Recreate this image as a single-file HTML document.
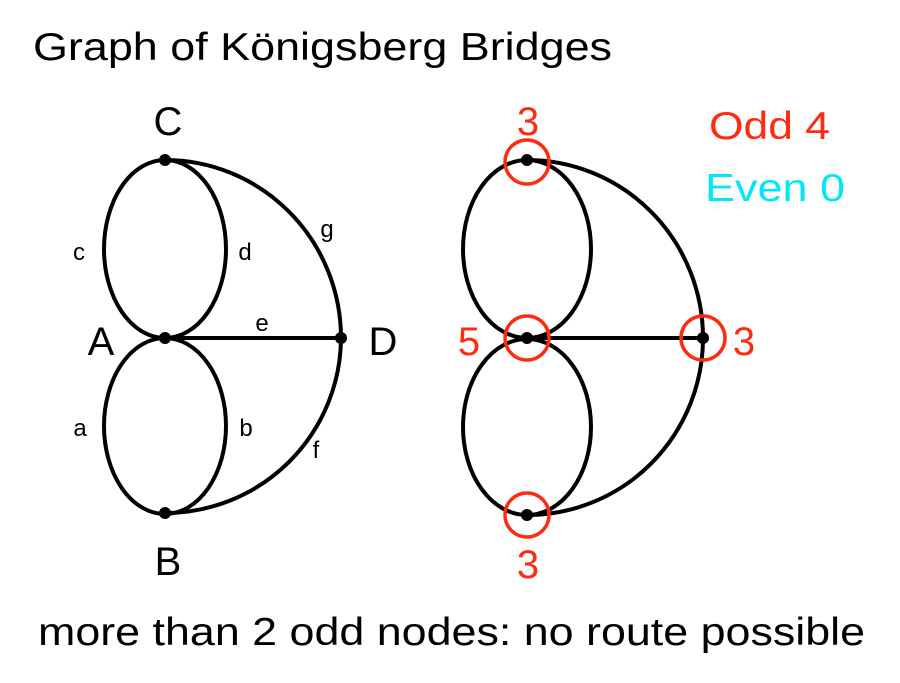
<!DOCTYPE html>
<html><head><style>
html,body{margin:0;padding:0;background:#fff;}
svg{display:block;}
text{font-family:"Liberation Sans",Arial,sans-serif;}
</style></head><body>
<svg width="900" height="683" viewBox="0 0 900 683">
<rect width="900" height="683" fill="#fff"/>
<text x="33" y="60" font-size="39" fill="#000" textLength="579" lengthAdjust="spacingAndGlyphs">Graph of Königsberg Bridges</text>
<g fill="none" stroke="#000" stroke-width="4">
  <ellipse cx="165" cy="249" rx="61" ry="89"/>
  <ellipse cx="165" cy="426" rx="61" ry="88"/>
  <path d="M165,160 A176,178 0 0 1 341,338 A176,176 0 0 1 165,513"/>
  <line x1="165" y1="338" x2="341" y2="338"/>
  <ellipse cx="527" cy="249" rx="64" ry="89"/>
  <ellipse cx="527" cy="427" rx="64" ry="88"/>
  <path d="M527,160 A176,178 0 0 1 703,338 A176,177 0 0 1 527,515"/>
  <line x1="527" y1="338" x2="703" y2="338"/>
</g>
<g fill="#000">
  <circle cx="165" cy="160" r="6"/><circle cx="165" cy="338" r="6"/>
  <circle cx="165" cy="513" r="6"/><circle cx="341" cy="338" r="6"/>
  <circle cx="527" cy="160" r="6"/><circle cx="527" cy="338" r="6"/>
  <circle cx="527" cy="515" r="6"/><circle cx="703" cy="338" r="6"/>
</g>
<g fill="none" stroke="#ff2a10" stroke-width="3.5">
  <circle cx="527" cy="162" r="22"/><circle cx="527" cy="338" r="22"/>
  <circle cx="527" cy="515" r="22"/><circle cx="703" cy="338" r="22"/>
</g>
<g font-size="40" fill="#000" text-anchor="middle">
  <text x="168" y="135">C</text>
  <text x="101" y="355">A</text>
  <text x="383" y="355">D</text>
  <text x="168" y="575">B</text>
</g>
<g font-size="24" fill="#000" text-anchor="middle">
  <text x="79" y="260">c</text>
  <text x="245" y="260">d</text>
  <text x="327" y="237">g</text>
  <text x="262" y="331">e</text>
  <text x="80" y="436">a</text>
  <text x="246" y="436">b</text>
  <text x="316" y="458">f</text>
</g>
<g font-size="40" fill="#ff2a10" text-anchor="middle">
  <text x="528" y="135">3</text>
  <text x="469" y="355">5</text>
  <text x="744" y="355">3</text>
  <text x="528" y="578">3</text>
</g>
<text x="709" y="139" font-size="39" fill="#ff2a10" textLength="121" lengthAdjust="spacingAndGlyphs">Odd 4</text>
<text x="705" y="201" font-size="39" fill="#00e8f8" textLength="140" lengthAdjust="spacingAndGlyphs">Even 0</text>
<text x="38" y="645" font-size="39" fill="#000" textLength="827" lengthAdjust="spacingAndGlyphs">more than 2 odd nodes: no route possible</text>
</svg>
</body></html>
